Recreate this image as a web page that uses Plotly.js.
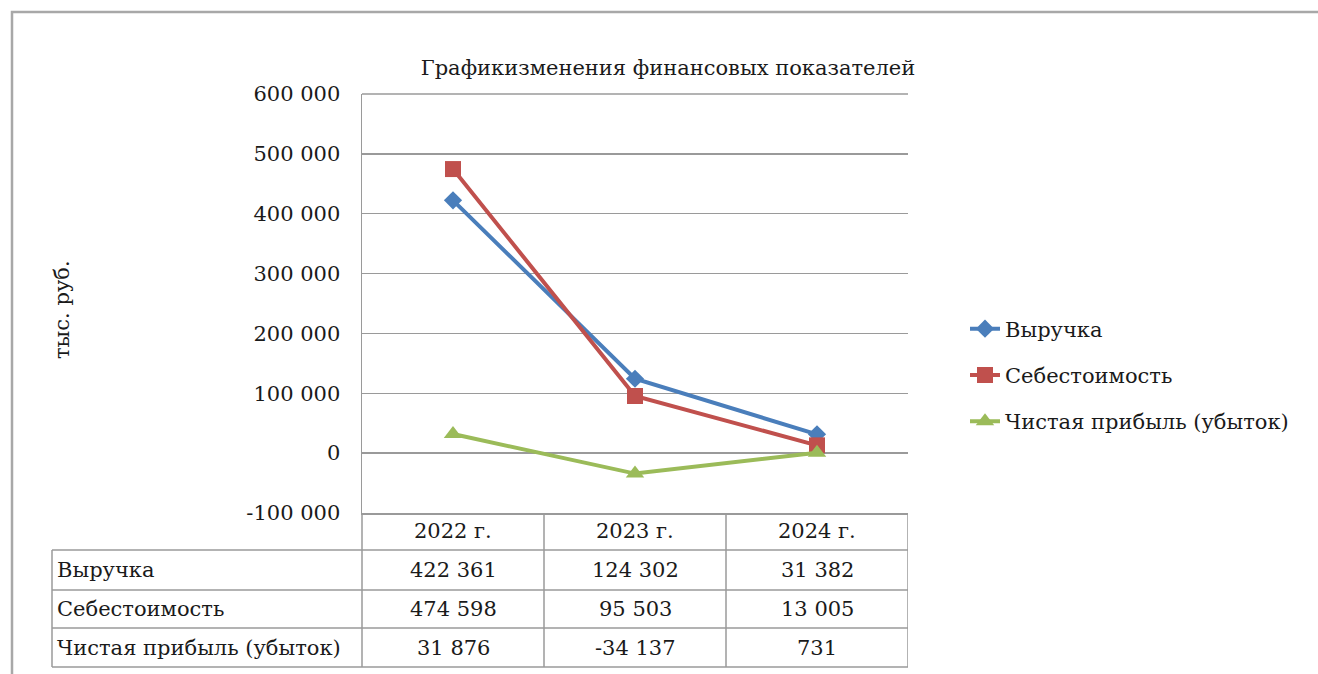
<!DOCTYPE html>
<html>
<head>
<meta charset="utf-8">
<script src="https://cdn.plot.ly/plotly-3.0.1.min.js"></script>
<style>html,body{margin:0;padding:0;background:#fff;}#chart{width:1318px;height:674px;}</style>
</head>
<body>
<div id="chart"></div>
<script>
// ---- data ----
const years = ['2022 г.', '2023 г.', '2024 г.'];
const revenue = [422361, 124302, 31382];
const cost = [474598, 95503, 13005];
const profit = [31876, -34137, 731];
const seriesNames = ['Выручка', 'Себестоимость', 'Чистая прибыль (убыток)'];
const yTickVals = [-100000, 0, 100000, 200000, 300000, 400000, 500000, 600000];
const chartTitle = 'Графикизменения финансовых показателей';
const yTitle = 'тыс. руб.';

// ---- helpers ----
function fmt(v) {
  const s = Math.abs(v).toString().replace(/\B(?=(\d{3})+(?!\d))/g, ' ');
  return (v < 0 ? '-' : '') + s;
}
const W = 1318, H = 674;
const L = 362, R = 908, T = 94, B = 513;
const PW = R - L, PH = B - T;
const px = X => (X - L) / PW;
const py = Y => (B - Y) / PH;

const FONT = "'DejaVu Serif', 'Liberation Serif', serif";
const TXT = '#1a1a1a';
const GRID = '#9a9a9a';
const FS = 21;
const colors = ['#4A7EBB', '#C0504D', '#9BBB59'];
const symbols = ['diamond', 'square', 'triangle-up'];
const sizes = [14, 16, 16];
const series = [revenue, cost, profit];

const traces = series.map((vals, i) => ({
  type: 'scatter', mode: 'lines+markers',
  x: years, y: vals, name: seriesNames[i], legendgroup: 'g' + i,
  line: {color: colors[i], width: 4},
  marker: {color: colors[i], symbol: symbols[i], size: sizes[i]}
}));

// ---- table (data table under the chart) ----
const shapes = [];
const annotations = [];
const lineStyle = {color: GRID, width: 1.5};
// outer chart border
shapes.push({type: 'rect', xref: 'paper', yref: 'paper', x0: px(12), x1: px(1340), y0: py(12), y1: py(700), line: {color: '#a8a8a8', width: 2.5}, layer: 'below'});
// horizontal table lines
const rowLines = [550, 590, 628, 667];
rowLines.forEach(Y => shapes.push({type: 'line', xref: 'paper', yref: 'paper', x0: px(52), x1: px(R), y0: py(Y), y1: py(Y), line: lineStyle}));
// vertical lines
shapes.push({type: 'line', xref: 'paper', yref: 'paper', x0: px(52), x1: px(52), y0: py(550), y1: py(667), line: lineStyle});
shapes.push({type: 'line', xref: 'paper', yref: 'paper', x0: 0, x1: 0, y0: 0, y1: py(667), line: lineStyle});
years.forEach((_, i) => shapes.push({type: 'line', xref: 'x', yref: 'paper', x0: i + 0.5, x1: i + 0.5, y0: 0, y1: py(667), line: lineStyle}));
// top border of the plot area (600 000 gridline)
shapes.push({type: 'line', xref: 'paper', yref: 'paper', x0: 0, x1: 1, y0: 1, y1: 1, line: lineStyle});

const headerY = 531;
const rowY = [570, 609, 648];
years.forEach((yr, i) => annotations.push({xref: 'x', yref: 'paper', x: i, y: py(headerY), text: yr, showarrow: false, xanchor: 'center', yanchor: 'middle', font: {family: FONT, size: FS, color: TXT}}));
series.forEach((vals, r) => {
  annotations.push({xref: 'paper', yref: 'paper', x: px(55), y: py(rowY[r]), text: seriesNames[r], showarrow: false, xanchor: 'left', yanchor: 'middle', font: {family: FONT, size: FS, color: TXT}});
  vals.forEach((v, c) => annotations.push({xref: 'x', yref: 'paper', x: c, y: py(rowY[r]), text: fmt(v), showarrow: false, xanchor: 'center', yanchor: 'middle', font: {family: FONT, size: FS, color: TXT}}));
});
// y-axis title
annotations.push({xref: 'paper', yref: 'paper', x: px(62), y: py(310), text: yTitle, textangle: -90, showarrow: false, xanchor: 'center', yanchor: 'middle', font: {family: FONT, size: FS, color: TXT}});

const layout = {
  width: W, height: H,
  margin: {l: L, r: W - R, t: T, b: H - B, pad: 0},
  paper_bgcolor: '#fff', plot_bgcolor: '#fff',
  font: {family: FONT, size: FS, color: TXT},
  title: {text: chartTitle, xref: 'paper', x: px(668), xanchor: 'center', yref: 'container', y: 1 - 68 / H, yanchor: 'middle', font: {family: FONT, size: 21, color: TXT}},
  showlegend: true,
  legend: {x: px(965), xanchor: 'left', y: py(375), yanchor: 'middle', traceorder: 'grouped', tracegroupgap: 16, font: {family: FONT, size: FS, color: TXT}, bgcolor: 'rgba(0,0,0,0)'},
  xaxis: {type: 'category', range: [-0.5, 2.5], showticklabels: false, showgrid: false, zeroline: false, showline: true, linecolor: GRID, linewidth: 1.5, ticks: ''},
  yaxis: {range: [-100000, 600000], tickvals: yTickVals, ticktext: yTickVals.map(fmt), showgrid: true, gridcolor: GRID, gridwidth: 1.5, zeroline: false, showline: true, linecolor: GRID, linewidth: 1.5, ticks: '', ticklabelstandoff: 16, tickfont: {family: FONT, size: FS, color: TXT}},
  shapes: shapes,
  annotations: annotations
};

Plotly.newPlot('chart', traces, layout, {displayModeBar: false, staticPlot: true});
</script>
</body>
</html>
